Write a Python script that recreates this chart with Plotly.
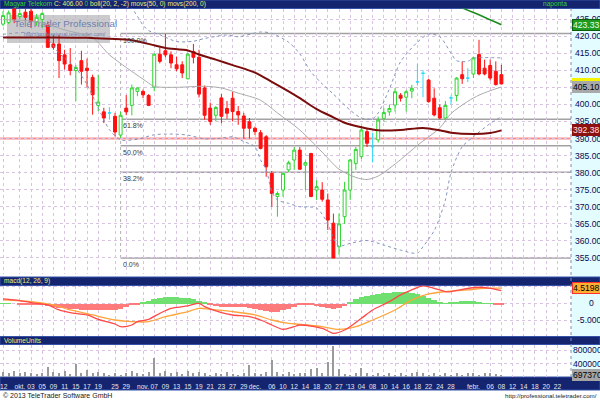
import pandas as pd
import plotly.graph_objects as go

# ---------------- trading calendar (Budapest SE sessions) ----------------
HOLIDAYS = ["2012-10-23", "2012-11-01", "2012-11-02", "2012-12-24",
            "2012-12-25", "2012-12-26", "2012-12-31", "2013-01-01"]
sessions = [d.strftime("%Y-%m-%d") for d in pd.bdate_range("2012-09-26", "2013-02-27")
            if d.strftime("%Y-%m-%d") not in HOLIDAYS]
pos = {d: i for i, d in enumerate(sessions)}

tick_dates = ["2012-09-26", "2012-10-01", "2012-10-03", "2012-10-05", "2012-10-09", "2012-10-11",
              "2012-10-15", "2012-10-17", "2012-10-19", "2012-10-25", "2012-10-29", "2012-11-05",
              "2012-11-07", "2012-11-09", "2012-11-13", "2012-11-15", "2012-11-19", "2012-11-21",
              "2012-11-23", "2012-11-27", "2012-11-29", "2012-12-03", "2012-12-06", "2012-12-10",
              "2012-12-12", "2012-12-14", "2012-12-18", "2012-12-20", "2012-12-27", "2013-01-02",
              "2013-01-04", "2013-01-08", "2013-01-10", "2013-01-14", "2013-01-16", "2013-01-18",
              "2013-01-22", "2013-01-24", "2013-01-28", "2013-02-01", "2013-02-06", "2013-02-08",
              "2013-02-12", "2013-02-14", "2013-02-18", "2013-02-20", "2013-02-22"]
tick_labels = ["'12", "okt.", "03", "05", "09", "11", "15", "17", "19", "25", "29", "nov.",
               "07", "09", "13", "15", "19", "21", "23", "27", "29", "dec.", "06", "10",
               "12", "14", "18", "20", "27", "'13", "04", "08", "10", "14", "16", "18",
               "22", "24", "28", "febr.", "06", "08", "12", "14", "18", "20", "22"]

# ---------------- daily prices, Magyar Telekom (HUF) ----------------
open_ = [423.5, 424.0, 428.0, 425.7, 427.0, 427.3, 424.0, 424.9, 423.3, 417.7,
         417.7, 414.5, 411.6, 409.9, 412.8, 410.6, 407.9, 399.7, 397.8, 397.5,
         396.5, 391.0, 398.9, 399.7, 403.8, 403.8, 402.6, 405.0, 414.7, 415.7,
         414.5, 411.6, 411.6, 407.5, 415.5, 413.8, 404.8, 398.9, 396.8, 401.9,
         398.8, 401.8, 397.9, 396.6, 394.9, 393.0, 391.7, 390.5, 379.8, 373.0,
         374.9, 380.8, 383.7, 386.6, 382.2, 385.6, 374.9, 374.9, 372.0, 365.2,
         358.3, 367.1, 374.9, 382.7, 384.7, 392.0, 387.6, 389.6, 395.9, 397.8,
         399.8, 402.7, 402.1, 403.9, 406.6, 409.1, 407.1, 401.8, 399.0, 396.0,
         401.9, 402.6, 408.7, 407.7, 408.9, 414.6, 410.6, 411.4, 409.7, 408.7]
high = [427.3, 427.5, 428.4, 427.8, 428.0, 428.0, 426.5, 427.0, 424.3, 420.4,
        420.4, 416.0, 416.5, 411.5, 415.7, 413.4, 408.7, 408.7, 399.0, 399.2,
        397.5, 397.8, 402.7, 405.8, 405.0, 404.3, 403.0, 415.0, 416.7, 420.75,
        415.5, 414.0, 412.6, 415.0, 417.7, 416.0, 405.5, 400.5, 399.5, 403.0,
        401.0, 403.7, 399.5, 397.5, 396.0, 393.5, 392.5, 391.0, 380.5, 374.5,
        380.0, 383.5, 387.5, 387.5, 383.5, 385.8, 377.8, 377.2, 373.9, 368.0,
        368.0, 377.3, 384.0, 387.5, 393.7, 392.8, 391.7, 396.4, 399.0, 400.0,
        404.7, 403.3, 404.2, 405.7, 411.8, 410.0, 407.5, 404.7, 400.0, 401.0,
        402.6, 408.0, 412.6, 410.6, 414.0, 418.9, 413.1, 413.1, 412.6, 411.6]
low = [422.9, 423.5, 423.8, 425.0, 424.5, 422.4, 423.0, 422.4, 416.5, 416.0,
       407.7, 410.2, 408.5, 401.0, 405.8, 405.0, 397.0, 398.0, 394.5, 395.5,
       390.6, 390.1, 396.8, 396.8, 402.4, 401.8, 399.5, 403.8, 412.0, 413.8,
       410.6, 409.7, 407.7, 407.3, 412.0, 402.0, 395.5, 394.0, 395.0, 394.5,
       395.8, 395.0, 394.0, 390.0, 390.0, 391.0, 386.8, 378.8, 370.0, 367.1,
       373.0, 380.2, 380.8, 380.8, 374.9, 372.8, 372.0, 371.5, 363.2, 355.0,
       355.9, 365.0, 372.0, 380.8, 384.0, 387.5, 383.0, 388.8, 394.9, 396.7,
       397.9, 400.8, 397.9, 401.8, 405.5, 402.1, 400.5, 396.5, 395.5, 395.5,
       399.9, 400.9, 406.0, 406.5, 407.7, 408.5, 408.5, 407.0, 405.5, 405.8]
close = [426.0, 426.8, 424.8, 426.6, 425.5, 424.3, 425.5, 426.6, 416.7, 416.7,
         412.8, 411.8, 409.9, 410.8, 409.7, 409.9, 402.8, 400.7, 396.0, 397.5,
         391.9, 396.8, 397.8, 404.8, 404.8, 402.8, 399.7, 414.7, 412.6, 414.5,
         412.1, 410.4, 409.2, 414.7, 413.8, 403.0, 396.8, 395.0, 399.1, 396.5,
         397.4, 397.9, 396.9, 393.0, 393.0, 392.0, 387.1, 381.7, 373.9, 373.9,
         379.8, 382.9, 386.6, 381.0, 382.9, 373.0, 375.9, 372.2, 366.1, 355.0,
         365.0, 374.9, 383.7, 386.8, 392.5, 388.6, 387.6, 395.4, 397.6, 398.8,
         403.7, 401.8, 403.7, 404.7, 406.6, 409.1, 400.8, 396.9, 396.0, 399.7,
         401.9, 407.7, 407.5, 407.7, 413.6, 408.9, 408.9, 407.7, 405.8, 406.0]
volume = [1600000, 1200000, 1900000, 1100000, 1400000, 1300000, 900000, 1200000, 2900000, 1500000,
          1200000, 1800000, 1000000, 3800000, 1300000, 2200000, 1200000, 1600000, 1100000, 600000,
          1300000, 700000, 1200000, 1800000, 1100000, 900000, 1600000, 5500000, 1300000, 1700000,
          1100000, 1400000, 800000, 1900000, 1200000, 1600000, 1200000, 700000, 1100000, 800000,
          1400000, 1000000, 600000, 1200000, 3500000, 1100000, 800000, 1500000, 5100000, 1400000,
          1000000, 1600000, 800000, 1200000, 1100000, 2300000, 2600000, 1100000, 4300000, 9100000,
          2300000, 1000000, 700000, 1200000, 2600000, 1100000, 600000, 1200000, 600000, 1100000,
          700000, 1200000, 600000, 1100000, 1500000, 1100000, 600000, 1200000, 700000, 1100000,
          600000, 1200000, 600000, 1100000, 1300000, 600000, 1100000, 1200000, 900000, 697370]

# ---------------- indicators (session index, value) ----------------
bb_mid_at = [0, 6, 11, 16, 19, 22, 25, 27, 31, 36, 39, 42, 46, 49, 53, 57, 60, 63, 65, 67,
             71, 74, 78, 80, 83, 85, 87, 89]
bb_mid = [424.8, 424.2, 421.8, 419.5, 414.5, 410.8, 407.4, 405.3, 405.0, 405.3, 404.8, 403.3,
          401.2, 397.5, 392.5, 386.0, 381.0, 378.6, 378.0, 379.0, 383.8, 388.0, 393.1, 397.3,
          400.9, 402.7, 404.0, 405.1]
bb_up_at = [20, 22, 24, 25, 26, 28, 31, 34, 36, 40, 42, 46, 48, 51, 53, 55, 57, 59, 62, 64,
            66, 67, 69, 71, 74, 76, 78, 80, 81, 83, 84, 89]
bb_up = [434.0, 430.5, 425.8, 423.2, 421.6, 420.4, 418.4, 418.5, 419.3, 420.3, 419.8, 421.2,
         420.8, 418.2, 414.8, 409.5, 406.0, 403.0, 398.3, 396.0, 395.8, 397.5, 404.5, 412.5,
         418.2, 420.6, 419.8, 415.0, 412.8, 412.6, 413.5, 413.6]
bb_lo_at = [0, 5, 8, 10, 13, 15, 17, 19, 21, 24, 27, 30, 33, 36, 39, 41, 43, 45, 46, 47,
            48, 49, 51, 53, 56, 58, 59, 60, 62, 65, 68, 71, 74, 75, 77, 78, 79, 80, 82, 84,
            87, 89]
bb_lo = [420.5, 421.0, 419.0, 415.0, 410.6, 405.8, 399.0, 392.6, 389.6, 389.8, 391.1, 391.3,
         391.0, 389.9, 390.1, 390.5, 389.1, 387.6, 383.7, 380.8, 374.5, 372.0, 371.0, 370.0,
         369.6, 365.0, 360.8, 358.5, 359.3, 360.1, 358.8, 357.3, 356.4, 358.3, 363.0, 367.0,
         372.0, 380.0, 387.6, 390.5, 394.4, 396.4]
ma50_at = [0, 8, 15, 19, 23, 27, 29, 33, 35, 38, 41, 45, 48, 51, 53, 56, 59, 61, 64, 67,
           71, 75, 78, 80, 84, 87, 89]
ma50 = [419.6, 419.6, 419.5, 419.2, 418.8, 417.3, 416.5, 415.8, 414.6, 413.1, 411.5, 409.3,
        406.6, 403.8, 401.8, 398.6, 396.2, 394.6, 393.3, 392.4, 392.5, 393.1, 392.4, 391.7,
        391.3, 391.6, 392.38]
ma200_at = [80, 84, 89]
ma200 = [429.5, 426.9, 423.33]

macd_at = [0, 3, 5, 8, 10, 12, 15, 17, 20, 21, 23, 24, 26, 28, 30, 33, 35, 36, 39, 41, 44,
           46, 48, 50, 52, 53, 57, 59, 61, 64, 66, 69, 71, 73, 75, 77, 79, 80, 82, 85, 87, 89]
macd = [1.3, 0.8, 0.2, -0.5, -2.0, -2.8, -3.5, -4.8, -6.2, -7.0, -6.5, -5.5, -4.8, -3.0,
        -1.5, -0.8, 0.0, -1.0, -2.8, -3.5, -4.0, -5.0, -6.5, -7.8, -7.0, -6.5, -7.5, -9.0,
        -8.0, -4.5, -2.0, 0.5, 2.5, 4.0, 5.2, 4.5, 3.5, 3.5, 4.2, 4.8, 4.5, 3.8]
signal_at = [0, 5, 9, 12, 16, 20, 23, 26, 29, 33, 35, 37, 41, 45, 48, 51, 53, 57, 60, 63,
             66, 70, 73, 76, 79, 83, 86, 89]
signal = [1.0, 0.5, -0.5, -2.0, -3.5, -5.0, -5.5, -5.5, -4.0, -2.5, -1.5, -1.8, -2.5, -3.5,
          -5.0, -6.0, -6.3, -7.0, -7.8, -7.0, -5.0, -2.0, 1.0, 2.8, 3.5, 4.0, 4.5, 4.5198]
macd_hist = [0.1, 0.1, 0.0, -0.1, -0.2, -0.3, -0.4, -0.5, -0.8, -1.0,
             -1.2, -1.3, -1.5, -1.6, -1.8, -1.8, -1.9, -2.0, -2.0, -2.0,
             -1.9, -1.6, -1.0, -0.5, -0.1, 0.3, 0.8, 1.3, 1.7, 2.0,
             2.0, 1.9, 1.8, 1.6, 1.3, 0.8, 0.3, -0.3, -0.6, -0.9,
             -1.0, -1.0, -1.0, -1.0, -1.2, -1.5, -1.8, -2.2, -2.5, -2.4,
             -2.0, -1.5, -1.0, -0.5, -0.3, -0.4, -0.6, -1.0, -1.4, -1.6,
             -1.3, -0.6, 0.5, 1.3, 2.0, 2.4, 2.7, 3.0, 3.2, 3.3,
             3.5, 3.5, 3.4, 3.2, 2.9, 2.4, 1.8, 1.2, 0.6, 0.2,
             0.4, 0.6, 0.8, 0.9, 0.8, 0.5, 0.2, 0.1, -0.2, -0.3]

# Fibonacci retracement drawn from the October low bar
fib_start = "2012-10-26"
fib_high, fib_low = 420.75, 355.0
fib_ratios = [1.0, 0.618, 0.5, 0.382, 0.0]
fib_names = ["100.0%", "61.8%", "50.0%", "38.2%", "0.0%"]
support_level = 390.0

# ---------------- page geometry (pixels of a 600x400 page) ----------------
W, H = 600, 400
AXIS_X = 571
MAIN_TOP, MAIN_BOT = 8.5, 274
PRICE_RANGE = [350.31, 428.08]
x_range = [-0.54, 101.43]

def py(px):
    return 1 - px / H

def px_to_x(px):
    return x_range[0] + px / AXIS_X * (x_range[1] - x_range[0])

def px_to_price(px):
    t = (px - MAIN_TOP) / (MAIN_BOT - MAIN_TOP)
    return PRICE_RANGE[1] - t * (PRICE_RANGE[1] - PRICE_RANGE[0])

FONT = "Liberation Sans, Arial, sans-serif"
NAVY = "#15246e"
GRID = "#d8c4e2"
LOGO = "#6f80ae"

n = len(close)
xi = list(range(n))
is_doji = [o == c for o, c in zip(open_, close)]

fig = go.Figure()

# logo lettering sits underneath the price marks
fig.add_trace(go.Scatter(x=[px_to_x(14)], y=[px_to_price(25)], mode="text",
                         text=["TeleTrader Professional"], textposition="middle right",
                         textfont=dict(size=9.8, color=LOGO, family=FONT),
                         xaxis="x", yaxis="y", hoverinfo="skip", showlegend=False))
fig.add_trace(go.Scatter(x=[px_to_x(24)], y=[px_to_price(34.5)], mode="text",
                         text=["http://professional.teletrader.com/"], textposition="middle right",
                         textfont=dict(size=5.5, color=LOGO, family=FONT),
                         xaxis="x", yaxis="y", hoverinfo="skip", showlegend=False))

# Bollinger bands and moving averages
def line(at, vals, color, width, dash="solid"):
    fig.add_trace(go.Scatter(x=at, y=vals, mode="lines", xaxis="x", yaxis="y",
                             line=dict(color=color, width=width, dash=dash, shape="spline",
                                       smoothing=0.8),
                             hoverinfo="skip", showlegend=False))

line(bb_up_at, bb_up, "#8494bd", 1, "dot")
line(bb_lo_at, bb_lo, "#8494bd", 1, "dot")
line(bb_mid_at, bb_mid, "#aaaaaa", 1)
line(ma50_at, ma50, "#7a0c0c", 2)
line(ma200_at, ma200, "#1a8c1a", 1.5)

# candles: rising / falling, and unchanged sessions drawn separately
main_x = [i for i in xi if not is_doji[i]]
fig.add_trace(go.Candlestick(
    x=main_x, open=[open_[i] for i in main_x], high=[high[i] for i in main_x],
    low=[low[i] for i in main_x], close=[close[i] for i in main_x],
    xaxis="x", yaxis="y", whiskerwidth=0,
    increasing=dict(line=dict(color="#2fd62f", width=1), fillcolor="#ffffff"),
    decreasing=dict(line=dict(color="#ff1010", width=1), fillcolor="#ff1010"),
    hoverinfo="skip", showlegend=False))
doji_x = [i for i in xi if is_doji[i]]
fig.add_trace(go.Candlestick(
    x=doji_x, open=[open_[i] for i in doji_x], high=[high[i] for i in doji_x],
    low=[low[i] for i in doji_x], close=[close[i] for i in doji_x],
    xaxis="x", yaxis="y", whiskerwidth=0,
    increasing=dict(line=dict(color="#30d8f8", width=1), fillcolor="#30d8f8"),
    decreasing=dict(line=dict(color="#30d8f8", width=1), fillcolor="#30d8f8"),
    hoverinfo="skip", showlegend=False))

# MACD panel
fig.add_trace(go.Bar(x=xi, y=macd_hist, xaxis="x2", yaxis="y2",
                     marker=dict(color=["#6fe06f" if v >= 0 else "#ff7a7a" for v in macd_hist],
                                 line=dict(width=0)),
                     hoverinfo="skip", showlegend=False))
fig.add_trace(go.Scatter(x=signal_at, y=signal, mode="lines", xaxis="x2", yaxis="y2",
                         line=dict(color="#ffa43a", width=1.3, shape="spline", smoothing=0.8),
                         hoverinfo="skip", showlegend=False))
fig.add_trace(go.Scatter(x=macd_at, y=macd, mode="lines", xaxis="x2", yaxis="y2",
                         line=dict(color="#ff4848", width=1.3, shape="spline", smoothing=0.8),
                         hoverinfo="skip", showlegend=False))

# volume panel
fig.add_trace(go.Bar(x=xi, y=volume, width=0.2, xaxis="x3", yaxis="y3",
                     marker=dict(color="#9a9a9a", line=dict(width=0)),
                     hoverinfo="skip", showlegend=False))

tickvals = [pos[d] for d in tick_dates]
xdom = [0, AXIS_X / W]
xcommon = dict(domain=xdom, range=x_range, tickmode="array", tickvals=tickvals,
               showgrid=True, gridcolor=GRID, griddash="dot", gridwidth=1,
               zeroline=False, showline=False, fixedrange=True, automargin=False)
ycommon = dict(side="right", tickmode="array", showgrid=True, gridcolor=GRID, griddash="dot",
               zeroline=False, ticks="", ticklen=0, automargin=False, ticklabeloverflow="allow",
               fixedrange=True)

fig.update_layout(
    width=W, height=H, margin=dict(l=0, r=0, t=0, b=0, autoexpand=False),
    paper_bgcolor="#ffffff", plot_bgcolor="#ffffff",
    bargap=0, boxgap=0.25, showlegend=False,
    font=dict(family=FONT, size=9, color="#0a0a50"),
    xaxis=dict(**xcommon, anchor="y", showticklabels=False, rangeslider=dict(visible=False)),
    xaxis2=dict(**xcommon, anchor="y2", showticklabels=False),
    xaxis3=dict(**xcommon, anchor="y3", ticktext=tick_labels, showticklabels=True,
                ticks="", ticklen=0, tickangle=0, ticklabeloverflow="allow",
                tickfont=dict(size=6.6, color="#e6e6f0", family=FONT), ticklabelstandoff=4),
    yaxis=dict(**ycommon, domain=[py(MAIN_BOT), py(MAIN_TOP)], range=PRICE_RANGE, anchor="x",
               tickvals=list(range(355, 430, 5)), tickfont=dict(size=8.6),
               ticktext=[f"{v:.2f}" for v in range(355, 430, 5)], ticklabelstandoff=3),
    yaxis2=dict(**ycommon, domain=[py(335.5), py(285.5)], range=[-9.64, 5.33], anchor="x2",
                tickvals=[-5, 0, 5], tickfont=dict(size=8.6),
                ticktext=["-5.0000", "\u00a0\u00a0\u00a0\u00a0\u00a00", "5.0000"],
                ticklabelstandoff=5),
    yaxis3=dict(**ycommon, domain=[py(377), py(345)], range=[0, 9.48e6], anchor="x3",
                tickvals=[4e6, 8e6], ticktext=["4000000", "8000000"], tickfont=dict(size=8.6),
                ticklabelstandoff=1),
)

shapes = []
# price-scale strip and panel title bars
shapes.append(dict(type="rect", xref="paper", yref="paper", x0=AXIS_X / W, x1=1,
                   y0=py(377), y1=py(8), fillcolor="#e2fcff", line=dict(width=0), layer="below"))
for top, bot in [(0, 8.5), (277, 285.5), (336.5, 344.5), (377, 390)]:
    shapes.append(dict(type="rect", xref="paper", yref="paper", x0=0, x1=1,
                       y0=py(bot), y1=py(top), fillcolor=NAVY,
                       line=dict(color="#3552a8", width=1), layer="below"))
shapes.append(dict(type="line", xref="paper", yref="paper", x0=AXIS_X / W, x1=AXIS_X / W,
                   y0=py(377), y1=py(8.5), line=dict(color="#7f8fb0", width=1, dash="dot")))
# horizontal support line
shapes.append(dict(type="line", xref="paper", yref="y", x0=0, x1=AXIS_X / W,
                   y0=support_level, y1=support_level,
                   line=dict(color="#ff8a8a", width=2), layer="below"))
# Fibonacci retracement levels
fib_levels = [fib_low + r * (fib_high - fib_low) for r in fib_ratios]
fx = pos[fib_start]
for lv in fib_levels:
    shapes.append(dict(type="line", xref="x", yref="y", x0=fx, x1=x_range[1], y0=lv, y1=lv,
                       line=dict(color="#a2a2a2", width=1.6), layer="below"))
shapes.append(dict(type="line", xref="x", yref="y", x0=fx, x1=fx, y0=fib_low, y1=fib_high,
                   line=dict(color="#b0b0b0", width=1, dash="dot"), layer="below"))
# logo plate, behind the price marks
shapes.append(dict(type="rect", xref="x", yref="y", x0=px_to_x(7), x1=px_to_x(110),
                   y0=px_to_price(43), y1=px_to_price(15), fillcolor="rgba(185,185,190,0.75)",
                   line=dict(width=0), layer="between"))
fig.update_layout(shapes=shapes)

ann = []
def text(x, y, s, size, color, xanchor="left", yanchor="middle", **kw):
    ann.append(dict(x=x, y=y, xref=kw.pop("xref", "paper"), yref=kw.pop("yref", "paper"),
                    text=s, showarrow=False, xanchor=xanchor, yanchor=yanchor,
                    font=dict(size=size, color=color, family=FONT), **kw))

Y = "#ecec7a"
title = (f"<span style='color:#36d236'>Magyar Telekom</span> "
         f"<span style='color:{Y}'>C: {close[-1]:.2f}</span> "
         f"<span style='color:#36d236'>0</span> "
         f"<span style='color:{Y}'>boll(20, 2, -2) movs(50, 0) movs(200, 0)</span>")
text(2 / W, py(4.5), title, 6.6, Y)
text(569 / W, py(4.5), "naponta", 6.6, "#36d236", xanchor="right")
text(2 / W, py(281.3), "macd(12, 26, 9)", 6.6, Y)
text(2 / W, py(340.5), "VolumeUnits", 6.6, Y)

for lv, name in zip(fib_levels, fib_names):
    text(fx, lv, name, 7, "#3a3a3a", yanchor="top", xref="x", yref="y", yshift=-1)

# last-value markers on the scales
def tag(y, s, bg, fg, yref, border=None):
    ann.append(dict(x=(AXIS_X + 1) / W, y=y, xref="paper", yref=yref, text=s,
                    showarrow=False, xanchor="left", yanchor="middle", bgcolor=bg,
                    bordercolor=border or bg, borderwidth=1, borderpad=0,
                    font=dict(size=8.6, color=fg, family=FONT)))

tag(ma200[-1], f"{ma200[-1]:.2f}", "#1f9a1f", "#e8ffe8", "y", "#0c5c0c")
tag(close[-1], f"{close[-1]:.2f}", "#f4f400", "#000000", "y")
tag(bb_mid[-1], f"{bb_mid[-1]:.2f}", "#a9a9a9", "#000000", "y")
tag(ma50[-1], f"{ma50[-1]:.2f}", "#8c1010", "#ffe0e0", "y")
tag(signal[-1], f"{signal[-1]:.4f}", "#ffb030", "#000000", "y2", "#ff3030")
tag(volume[-1], f"{volume[-1]}", "#a4a4a4", "#000000", "y3")

# footer
text(1 / W, py(395.5), "© 2013 TeleTrader Software GmbH", 7, "#202020")
text(599 / W, py(395.5), "http://professional.teletrader.com/", 6.2, "#202020", xanchor="right")

fig.update_layout(annotations=ann)
fig.write_html("out.html")
